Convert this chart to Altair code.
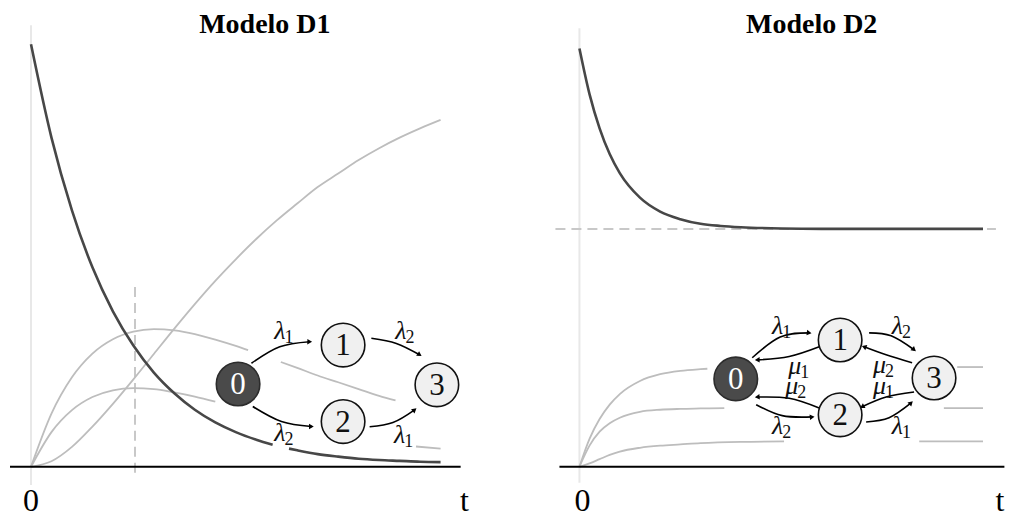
import math
import altair as alt
import pandas as pd

FONT = "Liberation Serif"
GREEK_FONT = "Liberation Serif, DejaVu Serif"
PANEL_W, PANEL_H, GAP = 490, 510, 18
Y_DOMAIN = [-0.1206, 1.0851]
D1_X_DOMAIN = [-0.561, 11.39]
D2_X_DOMAIN = [-1.584, 10.545]

TITLES = ["Modelo D1", "Modelo D2"]
AXIS_TEXT = ["0", "t"]

# ---------------- Modelo D1 curves (None = hidden behind the diagram) ----------------
D1_P3_T = [0, .5, 1, 1.5, 2, 2.5, 3, 3.5, 4, 4.5, 5, 5.5, 6, 6.5, 7, 7.5, 8, 8.5, 9, 9.5, 10]
D1_P3 = [0, .013, .047, .095, .149, .207, .267, .327, .385, .440, .491, .539, .583, .623,
         .662, .694, .726, .754, .779, .801, .821]
D1_P0_T = [0, .5, 1, 1.5, 2, 2.5, 3, 3.5, 4, 4.5, 5, 5.5, 5.9, None, 6.3, 6.5, 7, 7.5, 8, 8.5, 9, 9.5, 10]
D1_P0 = [1, .779, .607, .472, .368, .287, .223, .174, .135, .105, .082, .064, .052, None,
         .043, .039, .030, .024, .019, .016, .014, .012, .011]
D1_P1_T = [0, .5, 1, 1.5, 2, 2.5, 3, 3.5, 4, 4.5, 5, 5.3, None, 6.1, 6.5, 7, 7.5, 8, 8.5, 8.9]
D1_P1 = [0, .126, .212, .268, .302, .320, .326, .323, .314, .301, .286, .276, None,
         .248, .234, .216, .200, .184, .168, .157]
D1_P2_T = [0, .5, 1, 1.5, 2, 2.5, 3, 3.5, 4, 4.5, None, 9.4, 10]
D1_P2 = [0, .082, .134, .165, .181, .186, .184, .176, .166, .154, None, .048, .043]
D1_MARK_T = 2.54          # dashed vertical marker
D1_MARK_TOP = .4255

# ---------------- Modelo D2 curves ----------------
D2_P0_T = [0, .25, .5, .75, 1, 1.5, 2, 2.5, 3, 3.5, 4, 5, 6, 7, 8, 9, 10]
D2_P0 = [.990, .882, .801, .740, .695, .637, .604, .586, .575, .570, .567, .564, .563,
         .563, .563, .563, .563]
D2_A_T = [0, .25, .5, .75, 1, 1.5, 2, 2.5, 3, 3.17, None, 9.36, 10]
D2_A = [0, .066, .113, .147, .172, .203, .219, .227, .231, .232, None, .236, .236]
D2_B_T = [0, .25, .5, .75, 1, 1.5, 2, 2.5, 3, 3.59, None, 9.03, 10]
D2_B = [0, .050, .083, .103, .116, .130, .135, .137, .138, .139, None, .139, .139]
D2_C_T = [0, .25, .5, .75, 1, 1.5, 2, 2.5, 3, 4, 5.07, None, 8.42, 10]
D2_C = [0, .008, .018, .028, .036, .045, .050, .053, .056, .059, .060, None, .060, .060]
D2_LIMIT = .563

# ---------------- State diagrams ----------------
NODE_IDS = ["0", "1", "2", "3"]
D1_NODE_T = [5.056, 7.62, 7.62, 9.91]
D1_NODE_V = [.196, .288, .107, .194]
D1_EDGE_T = [[5.383, 6.073, 6.805], [8.310, 8.920, 9.488],
             [5.415, 6.115, 6.846], [8.268, 8.837, 9.366]]
D1_EDGE_V = [[.245, .284, .296], [.304, .292, .265],
             [.1426, .107, .0953], [.0946, .1047, .1348]]
D1_LABEL_SYM = ["λ", "λ", "λ", "λ"]
D1_LABEL_SUB = ["1", "2", "2", "1"]
D1_LABEL_T = [6.115, 9.073, 6.115, 9.041]
D1_LABEL_V = [.322, .322, .080, .0757]

D2_NODE_T = [3.874, 6.46, 6.46, 8.787]
D2_NODE_V = [.208, .300, .123, .210]
D2_EDGE_T = [[4.282, 4.975, 5.693], [5.941, 5.198, 4.406],
             [4.381, 5.025, 5.767], [5.941, 5.198, 4.406],
             [7.178, 7.723, 8.292], [8.243, 7.599, 7.054],
             [7.104, 7.673, 8.218], [8.292, 7.599, 7.005]]
D2_EDGE_V = [[.258, .307, .317], [.284, .261, .253],
             [.147, .121, .118], [.139, .162, .165],
             [.317, .310, .277], [.246, .265, .284],
             [.106, .116, .151], [.177, .165, .142]]
D2_LABEL_SYM = ["λ", "μ", "μ", "λ", "λ", "μ", "μ", "λ"]
D2_LABEL_SUB = ["1", "1", "2", "2", "2", "2", "1", "1"]
D2_LABEL_T = [4.950, 5.396, 5.322, 4.950, 7.921, 7.500, 7.500, 7.921]
D2_LABEL_V = [.333, .239, .190, .097, .333, .240, .191, .097]


def curve_rows(ts, vs, name):
    rows, seg = [], 0
    for t, v in zip(ts, vs):
        if t is None or v is None:
            seg += 1
            continue
        rows.append({"t": t, "v": v, "key": f"{name}-{seg}"})
    return rows


def panel(xd, dark_rows, gray_rows, vrules, hdash, vdash, axis_x, nodes, edges, labels,
          title, title_pos, zero_pos, t_pos):
    xs = alt.Scale(domain=xd, nice=False, zero=False)
    ys = alt.Scale(domain=Y_DOMAIN, nice=False, zero=False)
    X = alt.X("t:Q", scale=xs, axis=None)
    Y = alt.Y("v:Q", scale=ys, axis=None)
    px_x = PANEL_W / (xd[1] - xd[0])
    px_y = PANEL_H / (Y_DOMAIN[1] - Y_DOMAIN[0])

    layers = []
    layers.append(alt.Chart(pd.DataFrame(vrules)).mark_rule(color="#e8e8e8", strokeWidth=2)
                  .encode(x=X, y=Y, y2="v2:Q"))
    if vdash:
        layers.append(alt.Chart(pd.DataFrame(vdash)).mark_rule(color="#c8c8c8", strokeWidth=2, strokeDash=[10, 6])
                      .encode(x=X, y=Y, y2="v2:Q"))
    if hdash:
        layers.append(alt.Chart(pd.DataFrame(hdash)).mark_rule(color="#c8c8c8", strokeWidth=2, strokeDash=[10, 6])
                      .encode(x=X, x2="t2:Q", y=Y))
    layers.append(alt.Chart(pd.DataFrame(gray_rows)).mark_line(color="#bdbdbd", strokeWidth=1.8, interpolate="monotone")
                  .encode(x=X, y=Y, detail="key:N"))
    layers.append(alt.Chart(pd.DataFrame(dark_rows)).mark_line(color="#474747", strokeWidth=2.6, interpolate="monotone")
                  .encode(x=X, y=Y, detail="key:N"))
    layers.append(alt.Chart(pd.DataFrame(axis_x)).mark_rule(color="black", strokeWidth=2)
                  .encode(x=X, x2="t2:Q", y=Y))

    # edges
    e_rows, head_rows = [], []
    for i, (et, ev) in enumerate(edges):
        for k, (t, v) in enumerate(zip(et, ev)):
            e_rows.append({"edge": i, "k": k, "t": t, "v": v})
        dx = (et[0] - 4 * et[1] + 3 * et[2]) * px_x
        dy = -(ev[0] - 4 * ev[1] + 3 * ev[2]) * px_y
        ang = (math.degrees(math.atan2(dy, dx)) + 360) % 360
        head_rows.append({"t": et[2], "v": ev[2], "ang": ang})
    layers.append(alt.Chart(pd.DataFrame(e_rows)).mark_line(color="black", strokeWidth=1.6, interpolate="natural")
                  .encode(x=X, y=Y, detail="edge:N", order="k:Q"))
    layers.append(alt.Chart(pd.DataFrame(head_rows)).mark_point(shape="triangle-right", filled=True, color="black",
                                                                 size=30, opacity=1)
                  .encode(x=X, y=Y, angle=alt.Angle("ang:Q", scale=None)))

    ndf = pd.DataFrame(nodes)
    base_n = alt.Chart(ndf)
    layers.append(base_n.transform_filter(alt.datum.id != "0")
                  .mark_point(shape="circle", filled=True, fill="#f0f0f0", stroke="#111111",
                              strokeWidth=1.6, size=1900, opacity=1)
                  .encode(x=X, y=Y))
    layers.append(base_n.transform_filter(alt.datum.id == "0")
                  .mark_point(shape="circle", filled=True, fill="#4a4a4a", stroke="#2c2c2c",
                              strokeWidth=1.6, size=1900, opacity=1)
                  .encode(x=X, y=Y))
    layers.append(base_n.transform_filter(alt.datum.id != "0")
                  .mark_text(font=FONT, fontSize=31, color="#111111", baseline="middle", align="center", dy=1)
                  .encode(x=X, y=Y, text="id:N"))
    layers.append(base_n.transform_filter(alt.datum.id == "0")
                  .mark_text(font=FONT, fontSize=31, color="white", baseline="middle", align="center", dy=1)
                  .encode(x=X, y=Y, text="id:N"))

    ldf = pd.DataFrame(labels)
    layers.append(alt.Chart(ldf).mark_text(font=GREEK_FONT, fontSize=26, fontStyle="italic", color="#111111",
                                           baseline="middle", align="right", dx=4, clip=True)
                  .encode(x=X, y=Y, text="sym:N"))
    layers.append(alt.Chart(ldf).mark_text(font=FONT, fontSize=18, color="#111111",
                                           baseline="middle", align="left", dx=3, dy=7, clip=True)
                  .encode(x=X, y=Y, text="sub:N"))

    tdf = pd.DataFrame([{"t": title_pos[0], "v": title_pos[1], "txt": title}])
    layers.append(alt.Chart(tdf).mark_text(font=FONT, fontSize=28, fontWeight="bold", color="black",
                                           baseline="alphabetic", align="center", clip=True)
                  .encode(x=X, y=Y, text="txt:N"))
    adf = pd.DataFrame([{"t": zero_pos, "v": -0.1047, "txt": AXIS_TEXT[0]},
                        {"t": t_pos, "v": -0.1047, "txt": AXIS_TEXT[1]}])
    layers.append(alt.Chart(adf).mark_text(font=FONT, fontSize=32, color="black",
                                           baseline="alphabetic", align="center", clip=True)
                  .encode(x=X, y=Y, text="txt:N"))

    return alt.layer(*layers).properties(width=PANEL_W, height=PANEL_H)


# ---- build D1 ----
d1_dark = curve_rows(D1_P0_T, D1_P0, "p0")
d1_gray = (curve_rows(D1_P1_T, D1_P1, "p1") + curve_rows(D1_P2_T, D1_P2, "p2")
           + curve_rows(D1_P3_T, D1_P3, "p3"))
d1_nodes = [{"id": n, "t": t, "v": v} for n, t, v in zip(NODE_IDS, D1_NODE_T, D1_NODE_V)]
d1_labels = [{"sym": s, "sub": b, "t": t, "v": v}
             for s, b, t, v in zip(D1_LABEL_SYM, D1_LABEL_SUB, D1_LABEL_T, D1_LABEL_V)]
left = panel(D1_X_DOMAIN, d1_dark, d1_gray,
             vrules=[{"t": 0, "v": 1.045, "v2": -0.043}],
             hdash=None,
             vdash=[{"t": D1_MARK_T, "v": D1_MARK_TOP, "v2": -0.026}],
             axis_x=[{"t": -0.512, "t2": 10.49, "v": 0}],
             nodes=d1_nodes, edges=list(zip(D1_EDGE_T, D1_EDGE_V)), labels=d1_labels,
             title=TITLES[0], title_pos=(5.71, 1.026), zero_pos=0, t_pos=10.585)

# ---- build D2 ----
d2_dark = curve_rows(D2_P0_T, D2_P0, "p0")
d2_gray = (curve_rows(D2_A_T, D2_A, "a") + curve_rows(D2_B_T, D2_B, "b")
           + curve_rows(D2_C_T, D2_C, "c"))
d2_nodes = [{"id": n, "t": t, "v": v} for n, t, v in zip(NODE_IDS, D2_NODE_T, D2_NODE_V)]
d2_labels = [{"sym": s, "sub": b, "t": t, "v": v}
             for s, b, t, v in zip(D2_LABEL_SYM, D2_LABEL_SUB, D2_LABEL_T, D2_LABEL_V)]
right = panel(D2_X_DOMAIN, d2_dark, d2_gray,
              vrules=[{"t": 0, "v": 1.038, "v2": -0.038}],
              hdash=[{"t": -0.594, "t2": 10.32, "v": D2_LIMIT}],
              vdash=None,
              axis_x=[{"t": -0.495, "t2": 10.53, "v": 0}],
              nodes=d2_nodes, edges=list(zip(D2_EDGE_T, D2_EDGE_V)), labels=d2_labels,
              title=TITLES[1], title_pos=(5.755, 1.026), zero_pos=0.074, t_pos=10.42)

chart = (alt.hconcat(left, right, spacing=GAP)
         .properties(padding=0)
         .configure_view(stroke=None))

chart.save("out.html", embed_options={"renderer": "svg", "actions": False})
